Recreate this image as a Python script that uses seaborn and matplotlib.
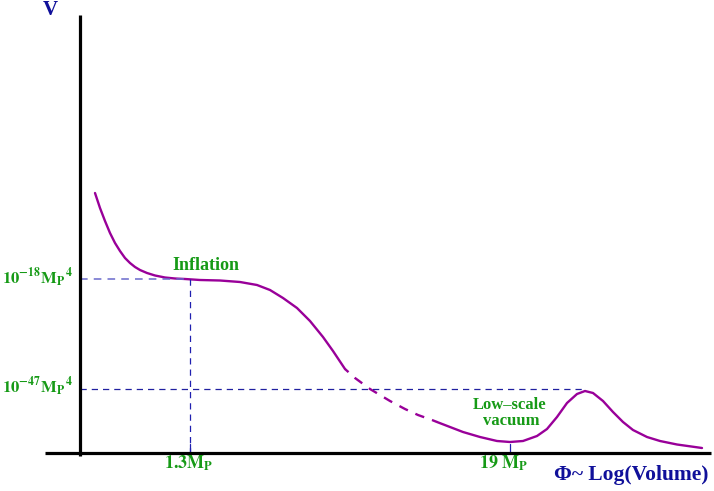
import matplotlib
matplotlib.use("Agg")
import matplotlib.pyplot as plt
import seaborn as sns
import pandas as pd

# ---- data (in image-pixel units) ----
x_solid1 = [95,100,105,110,115,120,125,130,135,140,147,155,165,175,185,200,220,240,257,270,283,297,310,323,333,345]
y_solid1 = [193,208,221,233,243,251,258,263,267,270,273,275.5,277.5,278.5,279,280,280.5,282,285,290,298,308,321,337,351,369]
x_dash = [345,355,370,390,405,418,432,437]
y_dash = [369,378,389,401,409,415,420,422]
x_solid2 = [437,450,463,480,497,510,523,537,547,557,567,577,585,593,603,613,623,633,647,660,677,702]
y_solid2 = [422,427,432,437,441,442,441,436,429,417,403,394,391,393,401,412,422,430,437,441,444.5,448]

inflation_x, inflation_v = 190, 279
vacuum_x, barrier_x, barrier_v = 510, 585, 389
axis_x, axis_y = 80, 453

ylabels = [r"$\mathbf{10}^{\mathbf{-18}}\mathbf{M}_{\mathbf{P}}{}^{\,\mathbf{4}}$",
           r"$\mathbf{10}^{\mathbf{-47}}\mathbf{M}_{\mathbf{P}}{}^{\,\mathbf{4}}$"]
xlabels = [r"$\mathbf{1.3M}_{\mathbf{P}}$", r"$\mathbf{19\ M}_{\mathbf{P}}$"]

sns.set_theme(style="white")
plt.rcParams["mathtext.fontset"] = "stix"
plt.rcParams["font.family"] = ["Liberation Serif", "DejaVu Serif"]

PURPLE = "#990099"
GREEN = "#169a16"
NAVY = "#10109a"

fig = plt.figure(figsize=(7.14, 4.91), dpi=100)
ax = fig.add_axes([0, 0, 1, 1])

df1 = pd.DataFrame({"x": x_solid1, "y": y_solid1})
df2 = pd.DataFrame({"x": x_dash, "y": y_dash})
df3 = pd.DataFrame({"x": x_solid2, "y": y_solid2})
sns.lineplot(data=df1, x="x", y="y", sort=False, color=PURPLE, lw=1.7, ax=ax)
sns.lineplot(data=df2, x="x", y="y", sort=False, color=PURPLE, lw=1.7, ax=ax,
             linestyle=(2, (4, 3.5)))
sns.lineplot(data=df3, x="x", y="y", sort=False, color=PURPLE, lw=1.7, ax=ax)
ax.set_xlim(0, 714)
ax.set_ylim(491, 0)
ax.axis("off")

# guide lines
ax.plot([axis_x, inflation_x], [inflation_v, inflation_v], color="#6a6acc", lw=1.1, ls=(0, (5, 4)))
ax.plot([inflation_x, inflation_x], [inflation_v, axis_y], color="#2020b0", lw=0.9, ls=(0, (5, 4)))
ax.plot([axis_x, barrier_x], [barrier_v, barrier_v], color="#2020a0", lw=0.9, ls=(0, (5, 4)))
ax.plot([vacuum_x, vacuum_x], [444, axis_y], color="#2020b0", lw=0.9)
ax.plot([inflation_x, inflation_x], [444, axis_y], color="#2020b0", lw=0.9)

# axes
ax.plot([axis_x, axis_x], [15, 456], color="black", lw=2.3, solid_capstyle="butt")
ax.plot([45, 711], [axis_y, axis_y], color="black", lw=2.3, solid_capstyle="butt")

# texts
ax.text(50, 10, "V", color=NAVY, fontsize=15, fontweight="bold", ha="center", va="center")
ax.text(631, 475, "Φ~ Log(Volume)", color=NAVY, fontsize=15.5, fontweight="bold", ha="center", va="center")
ax.text(206, 265, "Inflation", color=GREEN, fontsize=13, fontweight="bold", ha="center", va="center")
ax.text(510, 405, "Low–scale", color=GREEN, fontsize=12, fontweight="bold", ha="center", va="center")
ax.text(511, 421, "vacuum", color=GREEN, fontsize=12, fontweight="bold", ha="center", va="center")
ax.text(73, 284, ylabels[0], color=GREEN, fontsize=12, ha="right", va="baseline")
ax.text(73, 393, ylabels[1], color=GREEN, fontsize=12, ha="right", va="baseline")
ax.text(189, 469, xlabels[0], color=GREEN, fontsize=13, ha="center", va="baseline")
ax.text(504, 469, xlabels[1], color=GREEN, fontsize=13, ha="center", va="baseline")

fig.savefig("out.png", dpi=100)
